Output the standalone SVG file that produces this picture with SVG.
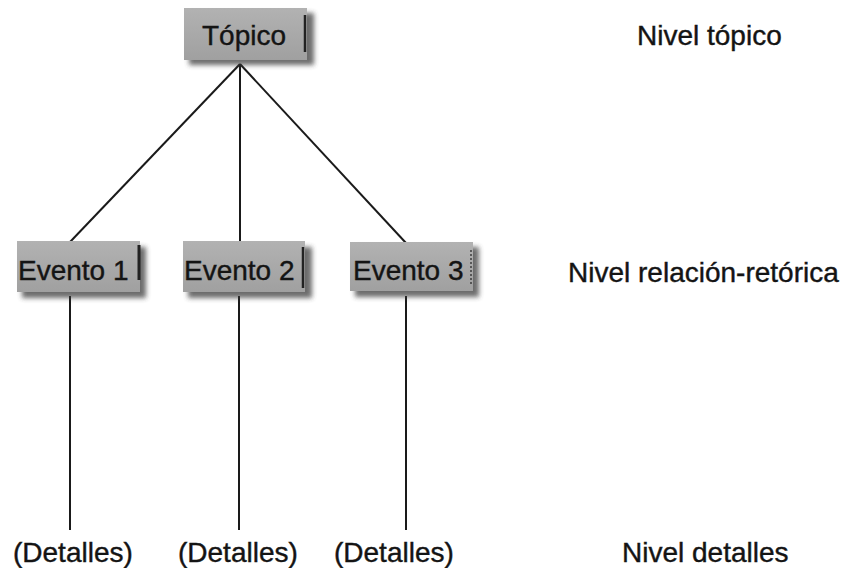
<svg xmlns="http://www.w3.org/2000/svg" width="859" height="568" viewBox="0 0 859 568">
<defs>
<filter id="sh" x="-20%" y="-30%" width="140%" height="160%">
<feGaussianBlur stdDeviation="2.5"/>
</filter>
<linearGradient id="bg" x1="0" y1="0" x2="0" y2="1">
<stop offset="0" stop-color="#b2b2b2"/>
<stop offset="1" stop-color="#a0a0a0"/>
</linearGradient>
</defs>
<style>
.box{fill:url(#bg);}
.shadow{fill:#3a3a3a;opacity:0.75;filter:url(#sh);}
.bar{stroke:#222;stroke-width:2.5;}
.t{font-family:"Liberation Sans",Arial,sans-serif;font-size:28px;fill:#141414;stroke:#141414;stroke-width:0.4;}
.c{stroke:#1a1a1a;stroke-width:2;fill:none;}
</style>
<rect width="859" height="568" fill="#ffffff"/>
<g id="connectors">
<line class="c" x1="240" y1="64" x2="70" y2="242"/>
<line class="c" x1="240" y1="64" x2="240" y2="242"/>
<line class="c" x1="240" y1="64" x2="406" y2="243"/>
<line class="c" x1="70" y1="296" x2="70" y2="530"/>
<line class="c" x1="239" y1="296" x2="239" y2="530"/>
<line class="c" x1="406" y1="296" x2="406" y2="530"/>
</g>
<g id="topico">
<rect class="shadow" x="189" y="13" width="125" height="52"/>
<rect class="box" x="184" y="8" width="123" height="52"/>
<line class="bar" x1="305" y1="15" x2="305" y2="52"/>
<text class="t" x="202" y="45">Tópico</text>
</g>
<g id="evento1">
<rect class="shadow" x="22" y="247" width="124" height="51"/>
<rect class="box" x="17" y="241" width="123" height="51"/>
<line class="bar" x1="139" y1="245" x2="139" y2="280" style="stroke-width:3"/>
<text class="t" x="18" y="280">Evento 1</text>
</g>
<g id="evento2">
<rect class="shadow" x="188" y="247" width="124" height="51"/>
<rect class="box" x="183" y="241" width="122" height="51"/>
<line class="bar" x1="303" y1="247" x2="303" y2="288"/>
<text class="t" x="184" y="280">Evento 2</text>
</g>
<g id="evento3">
<rect class="shadow" x="355" y="247" width="124" height="50"/>
<rect class="box" x="350" y="242" width="123" height="49"/>
<line class="bar" x1="471" y1="250" x2="471" y2="286" style="stroke-width:1.2;stroke-dasharray:2 2"/>
<text class="t" x="353" y="280">Evento 3</text>
</g>
<g id="detalles1"><text class="t" x="13" y="562">(Detalles)</text></g>
<g id="detalles2"><text class="t" x="178" y="562">(Detalles)</text></g>
<g id="detalles3"><text class="t" x="334" y="562">(Detalles)</text></g>
<g id="niveles">
<text class="t" x="637" y="45">Nivel tópico</text>
<text class="t" x="568" y="282">Nivel relación-retórica</text>
<text class="t" x="622" y="562">Nivel detalles</text>
</g>
</svg>
